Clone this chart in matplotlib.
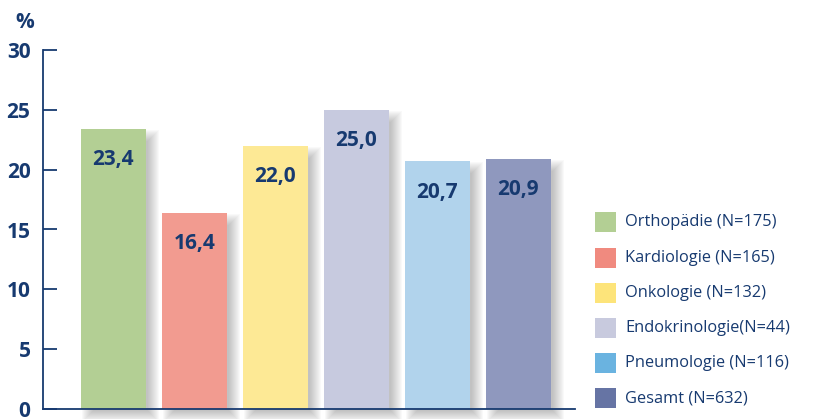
import matplotlib
matplotlib.use("Agg")
import matplotlib.pyplot as plt
from matplotlib.patches import Rectangle

categories = ["Orthopädie (N=175)", "Kardiologie (N=165)", "Onkologie (N=132)",
              "Endokrinologie(N=44)", "Pneumologie (N=116)", "Gesamt (N=632)"]
values = [23.4, 16.4, 22.0, 25.0, 20.7, 20.9]
value_labels = ["23,4", "16,4", "22,0", "25,0", "20,7", "20,9"]
bar_colors = ["#b3cf94", "#f29b90", "#fde995", "#c7cadf", "#b1d3ec", "#8f98be"]
legend_colors = ["#b3cf94", "#f08a7f", "#fde47a", "#c8cade", "#6ab3e0", "#6674a4"]
yticks = [0, 5, 10, 15, 20, 25, 30]

navy = "#173a70"
W, H = 823, 419
fig = plt.figure(figsize=(W / 100, H / 100), dpi=100)
plt.rcParams['font.family'] = ['Open Sans', 'DejaVu Sans']

ax_l, ax_r, ax_b, ax_t = 43, 575, 409, 50
ax = fig.add_axes([ax_l / W, 1 - ax_b / H, (ax_r - ax_l) / W, (ax_b - ax_t) / H])
ax.set_ylim(0, 30)
ax.set_xlim(-0.87, 5.70)
xs = list(range(len(values)))
width = 0.80

px_x = (5.70 + 0.87) / (ax_r - ax_l)
px_y = 30 / (ax_b - ax_t)

# soft drop shadows (stacked translucent layers)
off_x, off_y, shrink, n = 7, 7, 6, 12
for x, v in zip(xs, values):
    x0 = x - width / 2 + (off_x + shrink) * px_x
    y0 = -(off_y - shrink) * px_y
    w0 = width - 2 * shrink * px_x
    h0 = v - 2 * shrink * px_y
    for i in range(1, n + 1):
        ax.add_patch(Rectangle((x0 - i * px_x, y0 - i * px_y),
                               w0 + 2 * i * px_x, h0 + 2 * i * px_y,
                               facecolor="#3a3a3a", alpha=0.028, edgecolor="none",
                               clip_on=False, zorder=1))

ax.bar(xs, values, width=width, color=bar_colors, zorder=3)

for x, v, lab in zip(xs, values, value_labels):
    ax.text(x, v - 31 * px_y, lab, ha="center", va="center", fontsize=15,
            fontweight="bold", color=navy, zorder=4)

for s in ["top", "right"]:
    ax.spines[s].set_visible(False)
for s in ["left", "bottom"]:
    ax.spines[s].set_color(navy)
    ax.spines[s].set_linewidth(1.3)
    ax.spines[s].set_zorder(5)
ax.set_xticks([])
ax.set_yticks(yticks)
ax.set_yticklabels([str(t) for t in yticks], fontsize=15, fontweight="bold", color=navy)
ax.tick_params(axis="y", direction="in", length=10, width=1.3, color=navy, pad=9)
ax.patch.set_alpha(0)

fig.text(25 / W, 1 - 22 / H, "%", ha="center", va="center", fontsize=15,
         fontweight="bold", color=navy)

# legend
rows_y = [222, 258, 293, 328, 363, 398]
for y, c, lab in zip(rows_y, legend_colors, categories):
    fig.patches.append(Rectangle((595 / W, 1 - (y + 10) / H), 21 / W, 20 / H,
                                 transform=fig.transFigure, facecolor=c, edgecolor="none"))
    fig.text(625 / W, 1 - y / H, lab, ha="left", va="center", fontsize=11.8,
             color=navy)

fig.savefig("out.png", dpi=100)
